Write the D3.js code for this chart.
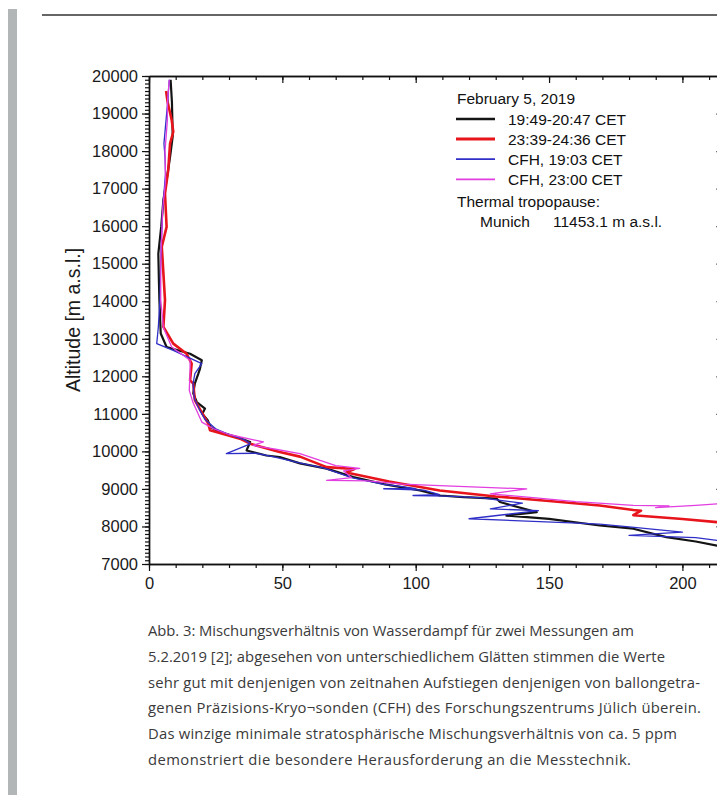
<!DOCTYPE html>
<html>
<head>
<meta charset="utf-8">
<script src="https://cdn.jsdelivr.net/npm/d3@7"></script>
<style>
  body { margin: 0; background: #fff; }
  svg { display: block; }
</style>
</head>
<body>
<svg id="chart_svg"></svg>
<script>
// Water vapour mixing ratio [ppm] vs altitude [m a.s.l.]
var run_1949 = [[8.1,19900],[8.6,19300],[8.9,18400],[8.0,17900],[7.2,17500],[5.4,16700],[4.6,16000],[3.5,15270],[3.7,14600],[3.9,14030],[4.4,13140],[6.6,12780],[15.4,12600],[19.8,12430],[19.1,12200],[18.5,12070],[17.2,11810],[16.6,11545],[17.9,11315],[21,11140],[20,11000],[22,10830],[23,10650],[26.6,10515],[32.9,10380],[37.9,10250],[36.6,10025],[44,9890],[49,9850],[56.6,9680],[66.6,9540],[76.6,9315],[88,9130],[101.6,8960],[109,8825],[118,8780],[130.4,8740],[131.6,8650],[145.4,8380],[134,8290],[150,8200],[169,8025],[181.6,7940],[194,7715],[205,7600],[213,7490],[222,7400]];
var run_2339 = [[6.4,19600],[7.0,19300],[8.5,18830],[9.1,18515],[7.9,18200],[7.2,17490],[6.0,16870],[6.6,15980],[4.8,15450],[5.4,14740],[6.0,14030],[5.4,13315],[9.1,12870],[14.1,12600],[16,12340],[15.4,11890],[16.6,11805],[17.2,11360],[22.2,10740],[22.9,10560],[34.1,10340],[37.9,10205],[49,9985],[56.6,9860],[66.6,9580],[77,9530],[74,9440],[90,9200],[109,8960],[130,8800],[150,8680],[169,8560],[181.6,8440],[184.5,8420],[181.6,8300],[200,8200],[213,8115],[222,8060]];
var cfh_1903 = [[7.6,19900],[7,19300],[6.4,18830],[5.6,18200],[6.0,17850],[6.2,17400],[5.1,16430],[4.4,15090],[4.1,14030],[3.5,13315],[2.9,12870],[9.1,12690],[19.8,12340],[17.2,12070],[16.5,11800],[17,11400],[19,11100],[21,10850],[25,10600],[30,10450],[36,10300],[38,10200],[29,9940],[40,9950],[46,9870],[56,9700],[66,9550],[76,9300],[88,9120],[95,9060],[100,9010],[88,9005],[103,8970],[109,8850],[99,8825],[112,8810],[125,8760],[131,8700],[140,8620],[128,8470],[146,8420],[120,8205],[163,8080],[169,8060],[181,7980],[200,7850],[180,7760],[205,7700],[213,7630],[222,7560]];
var cfh_2300 = [[7.6,19900],[6.9,19300],[6.9,18830],[6.0,18000],[6.2,17200],[5.1,16430],[4.4,15090],[4.4,14030],[5.4,13300],[8.5,12780],[15.4,12430],[15.4,12115],[15.1,11625],[16.5,11300],[19.8,10780],[24.1,10605],[30,10450],[42.9,10250],[39,10160],[48,10050],[56.6,9940],[70,9620],[79,9545],[73,9480],[76,9300],[66.6,9230],[82,9215],[95,9130],[109,9090],[141.6,9000],[128,8870],[145,8760],[160,8660],[181.6,8560],[195,8550],[190,8500],[205,8560],[213,8600],[222,8620]];

var seriesNames = ['19:49-20:47 CET', '23:39-24:36 CET', 'CFH, 19:03 CET', 'CFH, 23:00 CET'];
var seriesData = [run_1949, run_2339, cfh_1903, cfh_2300];
var seriesColors = ['#141414', '#e8141b', '#2f2fc8', '#e23ee0'];
var seriesWidths = [2.2, 2.6, 1.3, 1.3];

var xMajorTicks = [0, 50, 100, 150, 200];
var yMajorTicks = [7000, 8000, 9000, 10000, 11000, 12000, 13000, 14000, 15000, 16000, 17000, 18000, 19000, 20000];

var W = 717, H = 795;
var plot = { left: 149, top: 76, bottom: 564 };

var svg = d3.select('#chart_svg').attr('width', W).attr('height', H);
svg.append('rect').attr('width', W).attr('height', H).attr('fill', '#fff');

// page decoration: grey side bar and top rule
svg.append('rect').attr('x', 8).attr('y', 9).attr('width', 9).attr('height', H - 9).attr('fill', '#b3b6b6');
svg.append('line').attr('x1', 42).attr('x2', W).attr('y1', 15).attr('y2', 15)
   .attr('stroke', '#333').attr('stroke-width', 1.3);

var x = d3.scaleLinear().domain([0, 215]).range([plot.left, plot.left + 215 * 2.667]);
var y = d3.scaleLinear().domain([7000, 20000]).range([plot.bottom, plot.top]);

var axisFont = '"Liberation Sans", Arial, sans-serif';

function styleAxis(g) {
    g.selectAll('path.domain').attr('stroke', '#111').attr('stroke-width', 1.4);
    g.selectAll('.tick line').attr('stroke', '#111').attr('stroke-width', 1.2);
    g.selectAll('.tick text').attr('fill', '#1a1a1a').style('font-family', axisFont).style('font-size', '16.5px');
}

// minor ticks first
svg.append('g').attr('transform', 'translate(0,' + plot.bottom + ')')
   .call(d3.axisBottom(x).tickValues(d3.range(0, 216, 10)).tickSize(4).tickSizeOuter(0).tickFormat(''))
   .call(styleAxis);
svg.append('g').attr('transform', 'translate(' + plot.left + ',0)')
   .call(d3.axisLeft(y).tickValues(d3.range(7000, 20001, 100)).tickSize(4).tickSizeOuter(0).tickFormat(''))
   .call(styleAxis);
svg.append('g').attr('transform', 'translate(0,' + plot.top + ')')
   .call(d3.axisBottom(x).tickValues(d3.range(0, 216, 10)).tickSize(4).tickSizeOuter(0).tickFormat(''))
   .call(styleAxis);

// major ticks
svg.append('g').attr('transform', 'translate(0,' + plot.bottom + ')')
   .call(d3.axisBottom(x).tickValues(xMajorTicks).tickSize(7).tickPadding(6).tickSizeOuter(0).tickFormat(d3.format('d')))
   .call(styleAxis);
svg.append('g').attr('transform', 'translate(' + plot.left + ',0)')
   .call(d3.axisLeft(y).tickValues(yMajorTicks).tickSize(7).tickPadding(4).tickSizeOuter(0).tickFormat(d3.format('d')))
   .call(styleAxis);
svg.append('g').attr('transform', 'translate(0,' + plot.top + ')')
   .call(d3.axisBottom(x).tickValues(xMajorTicks).tickSize(7).tickSizeOuter(0).tickFormat(''))
   .call(styleAxis);
svg.append('g').attr('transform', 'translate(' + x(215) + ',0)')
   .call(d3.axisLeft(y).tickValues(yMajorTicks).tickSize(6).tickSizeOuter(0).tickFormat(''))
   .call(styleAxis);

// y axis title
svg.append('text')
   .attr('transform', 'translate(80,320) rotate(-90)')
   .attr('text-anchor', 'middle')
   .style('font-family', axisFont).style('font-size', '19.5px').attr('fill', '#1a1a1a')
   .text('Altitude [m a.s.l.]');

// profiles, clipped to plot area
svg.append('clipPath').attr('id', 'plot_clip').append('rect')
   .attr('x', plot.left).attr('y', plot.top).attr('width', x(215) - plot.left).attr('height', plot.bottom - plot.top);

var line = d3.line().x(function(d) { return x(d[0]); }).y(function(d) { return y(d[1]); });
var profiles = svg.append('g').attr('clip-path', 'url(#plot_clip)');
seriesData.forEach(function(data, i) {
    profiles.append('path')
        .datum(data)
        .attr('d', line)
        .attr('fill', 'none')
        .attr('stroke', seriesColors[i])
        .attr('stroke-width', seriesWidths[i])
        .attr('stroke-linejoin', 'round');
});

// legend
var legend = svg.append('g').style('font-family', axisFont).style('font-size', '15.5px').attr('fill', '#111');
legend.append('text').attr('x', 457).attr('y', 104).text('February 5, 2019');
seriesNames.forEach(function(name, i) {
    var ly = 119 + i * 20.1;
    legend.append('line').attr('x1', 456).attr('x2', 495).attr('y1', ly).attr('y2', ly)
          .attr('stroke', seriesColors[i]).attr('stroke-width', seriesWidths[i] + 0.4);
    legend.append('text').attr('x', 508).attr('y', ly + 5.5).text(name);
});
legend.append('text').attr('x', 457).attr('y', 207).text('Thermal tropopause:');
legend.append('text').attr('x', 480).attr('y', 227).text('Munich');
legend.append('text').attr('x', 553).attr('y', 227).text('11453.1 m a.s.l.');

// caption (line widths follow the typeset original)
var caption = [
    'Abb. 3: Mischungsverhältnis von Wasserdampf für zwei Messungen am',
    '5.2.2019 [2]; abgesehen von unterschiedlichem Glätten stimmen die Werte',
    'sehr gut mit denjenigen von zeitnahen Aufstiegen denjenigen von ballongetra-',
    'genen Präzisions-Kryo¬sonden (CFH) des Forschungszentrums Jülich überein.',
    'Das winzige minimale stratosphärische Mischungsverhältnis von ca. 5 ppm',
    'demonstriert die besondere Herausforderung an die Messtechnik.'
];
var captionWidths = [486, 517, 552, 553, 529, 483];
svg.append('g').selectAll('text').data(caption).enter().append('text')
   .attr('x', 148).attr('y', function(d, i) { return 636 + i * 25.8; })
   .attr('textLength', function(d, i) { return captionWidths[i]; })
   .attr('lengthAdjust', 'spacing')
   .style('font-family', '"Open Sans", sans-serif').style('font-size', '14.8px')
   .attr('fill', '#3a3a3a')
   .text(function(d) { return d; });
</script>
</body>
</html>
